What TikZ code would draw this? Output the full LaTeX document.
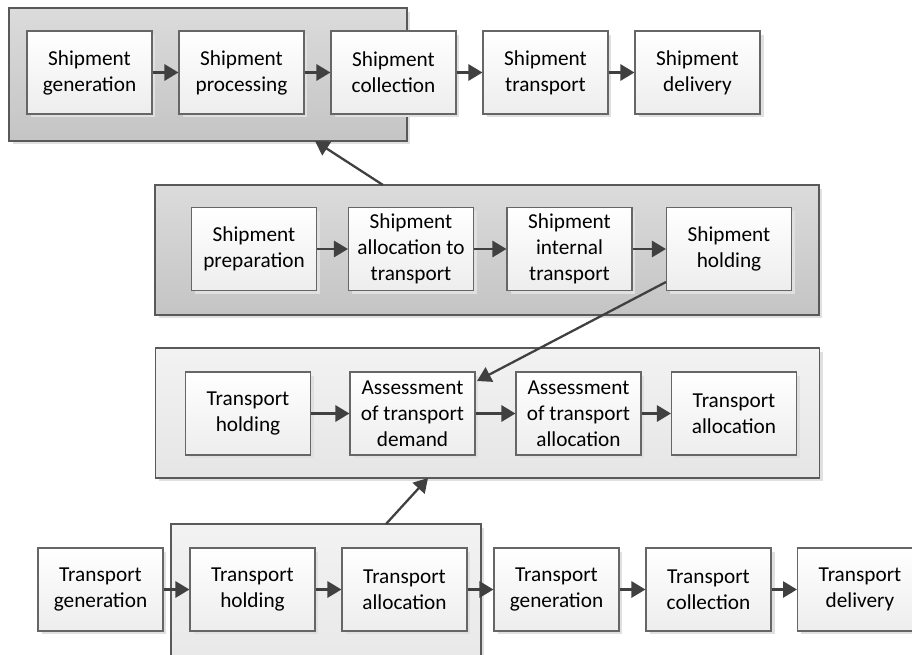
\documentclass[tikz,border=0pt]{standalone}
\usepackage{fontspec}
\setmainfont{Carlito}
\usepackage{tikz}
\usetikzlibrary{arrows.meta,shadows}

\begin{document}
\begin{tikzpicture}[x=0.02cm, y=-0.02cm,
  grp/.style={draw=black!65, line width=0.7pt, minimum width=13.28cm,
              minimum height=2.6cm,
              drop shadow={shadow xshift=0.07cm, shadow yshift=-0.07cm,
                           fill=black!12, opacity=1}},
  dark/.style={grp, top color=black!14, bottom color=black!23},
  light/.style={grp, top color=black!5, bottom color=black!10},
  proc/.style={draw=black!60, line width=0.6pt, top color=white,
               bottom color=black!7, minimum width=2.5cm,
               minimum height=1.66cm, align=center,
               font=\fontsize{12.1}{14.8}\selectfont,
               drop shadow={shadow xshift=0.07cm, shadow yshift=-0.07cm,
                            fill=black!12, opacity=1}},
  flow/.style={draw=black!75, line width=1.6pt,
               -{Triangle[length=0.28cm, width=0.32cm]}}
]
\useasboundingbox (0,0) rectangle (912,655);
% Groups
\node[dark, minimum width=7.96cm, minimum height=2.66cm] (grpTop) at (208,74.5) {};
\node[dark] (grpShip) at (487,250) {};
\node[light] (grpAssess) at (487.5,413) {};
\node[light, minimum width=6.2cm, minimum height=3.52cm] (grpBottom) at (326,612) {};
% Shipment flow
\node[proc] (sgen) at (89.5,72.5) {Shipment\\generation};
\node[proc] (sproc) at (241.5,72.5) {Shipment\\processing};
\node[proc] (scoll) at (393.5,72.5) {Shipment\\collection};
\node[proc] (strans) at (545.5,72.5) {Shipment\\transport};
\node[proc] (sdel) at (697.5,72.5) {Shipment\\delivery};
% Shipment collection detail
\node[proc] (sprep) at (254,249) {Shipment\\preparation};
\node[proc] (salloc) at (411,249) {Shipment\\allocation to\\transport};
\node[proc] (sint) at (569.5,249) {Shipment\\internal\\transport};
\node[proc] (shold) at (729,249) {Shipment\\holding};
% Transport allocation detail
\node[proc] (thold) at (248,413.5) {Transport\\holding};
\node[proc] (tdem) at (412.5,413.5) {Assessment\\of transport\\demand};
\node[proc] (tassess) at (578.5,413.5) {Assessment\\of transport\\allocation};
\node[proc] (talloc) at (734,413.5) {Transport\\allocation};
% Transport flow
\node[proc] (tgen) at (100.5,589.5) {Transport\\generation};
\node[proc] (tholdB) at (252.5,589.5) {Transport\\holding};
\node[proc] (tallocB) at (404.5,589.5) {Transport\\allocation};
\node[proc] (tgenB) at (556.5,589.5) {Transport\\generation};
\node[proc] (tcoll) at (708.5,589.5) {Transport\\collection};
\node[proc] (tdel) at (860,589.5) {Transport\\delivery};
% Arrows
\draw[flow] (sgen) -- (sproc);
\draw[flow] (sproc) -- (scoll);
\draw[flow] (scoll) -- (strans);
\draw[flow] (strans) -- (sdel);
\draw[flow] (sprep) -- (salloc);
\draw[flow] (salloc) -- (sint);
\draw[flow] (sint) -- (shold);
\draw[flow] (thold) -- (tdem);
\draw[flow] (tdem) -- (tassess);
\draw[flow] (tassess) -- (talloc);
\draw[flow] (tgen) -- (tholdB);
\draw[flow] (tholdB) -- (tallocB);
\draw[flow] (tallocB) -- (tgenB);
\draw[flow] (tgenB) -- (tcoll);
\draw[flow] (tcoll) -- (tdel);
% Links between levels
\coordinate (shipUp) at (383,185);
\coordinate (topIn) at (315,141);
\coordinate (holdOut) at (666,282);
\coordinate (demIn) at (477,381);
\coordinate (botUp) at (386,524);
\coordinate (assessIn) at (428,478);
\draw[flow, line width=1.3pt] (shipUp) -- (topIn);
\draw[flow, line width=1.3pt] (holdOut) -- (demIn);
\draw[flow, line width=1.3pt] (botUp) -- (assessIn);
\end{tikzpicture}
\end{document}
